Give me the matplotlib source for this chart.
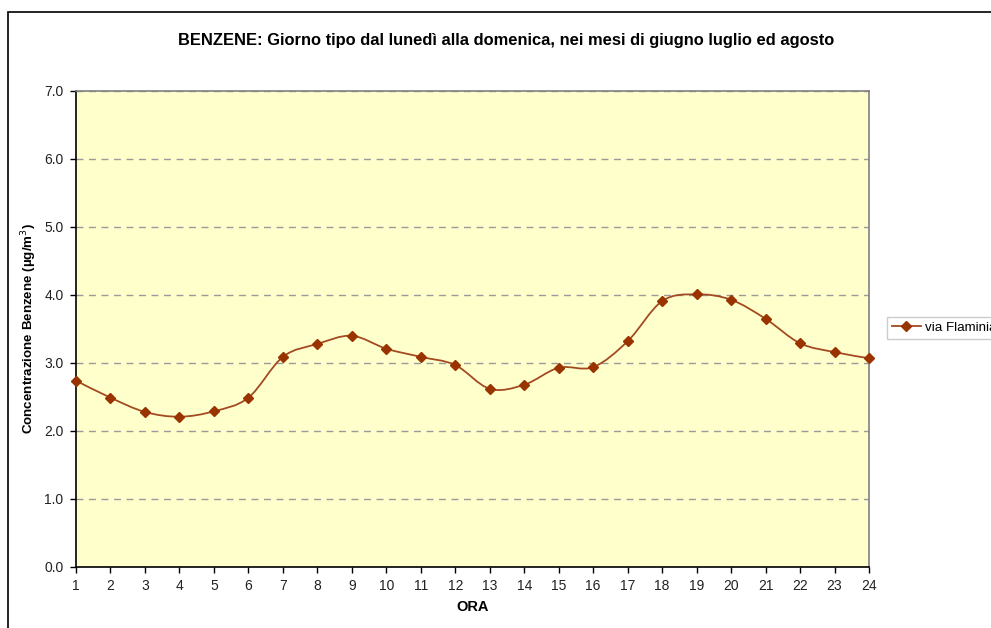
import matplotlib.pyplot as plt
from matplotlib.path import Path
from matplotlib.patches import PathPatch, Rectangle
from matplotlib.lines import Line2D

# hourly mean benzene, via Flaminia
ore = list(range(1, 25))
benzene = [2.74, 2.49, 2.28, 2.21, 2.29, 2.49, 3.09, 3.28, 3.40, 3.21, 3.09, 2.97,
           2.62, 2.68, 2.93, 2.94, 3.32, 3.91, 4.01, 3.93, 3.65, 3.29, 3.16, 3.07]
serie = "via Flaminia"
titolo = "BENZENE: Giorno tipo dal lunedì alla domenica, nei mesi di giugno luglio ed agosto"

plt.rcParams['font.family'] = ['Liberation Sans', 'DejaVu Sans']

LINE_C = "#A34A22"
MARK_C = "#993300"


def smooth_path(x, y, t=1 / 6):
    # Excel-style smoothed line: cubic Bezier through each point
    verts = [(x[0], y[0])]
    codes = [Path.MOVETO]
    n = len(x)
    for i in range(n - 1):
        x0, y0 = (x[i - 1], y[i - 1]) if i > 0 else (x[i], y[i])
        x3, y3 = (x[i + 2], y[i + 2]) if i + 2 < n else (x[i + 1], y[i + 1])
        c1 = (x[i] + (x[i + 1] - x0) * t, y[i] + (y[i + 1] - y0) * t)
        c2 = (x[i + 1] - (x3 - x[i]) * t, y[i + 1] - (y3 - y[i]) * t)
        verts += [c1, c2, (x[i + 1], y[i + 1])]
        codes += [Path.CURVE4] * 3
    return Path(verts, codes)


fig = plt.figure(figsize=(9.91, 6.28), dpi=100)
ax = fig.add_axes([76 / 991, 1 - 567 / 628, (869 - 76) / 991, (567 - 91) / 628])

# outer chart frame (runs off the right and bottom edges)
fig.patches.append(Rectangle((8 / 991, -0.1), 1.2, 1 - 12 / 628 + 0.1,
                             transform=fig.transFigure, fill=False,
                             edgecolor="black", linewidth=1.2))

ax.set_facecolor("#FFFFCC")
ax.add_patch(PathPatch(smooth_path(ore, benzene), facecolor="none",
                       edgecolor=LINE_C, linewidth=1.3, zorder=3))
ax.plot(ore, benzene, linestyle="none", marker="D", markersize=5,
        color=MARK_C, zorder=4, clip_on=False)

ax.set_xlim(1, 24)
ax.set_ylim(0, 7)
ax.set_xticks(ore)
ax.set_yticks([i for i in range(8)])
ax.set_yticklabels([f"{v:.1f}" for v in range(8)])
ax.tick_params(axis="both", direction="out", length=4, width=1, labelsize=10,
               colors="black", labelcolor="#222222")
ax.tick_params(axis="x", pad=5)
ax.tick_params(axis="y", pad=5)
ax.yaxis.grid(True, linestyle=(0, (5, 4)), color="#9A9A9A", linewidth=1)
ax.set_axisbelow(True)

for s in ("top", "right"):
    ax.spines[s].set_color("#808080")
    ax.spines[s].set_linewidth(1.2)
for s in ("left", "bottom"):
    ax.spines[s].set_color("black")
    ax.spines[s].set_linewidth(1.2)

ax.set_xlabel("ORA", fontsize=10.5, fontweight="bold", labelpad=5)
ax.set_ylabel("Concentrazione Benzene (µg/m$^3$)", fontsize=9.6, fontweight="bold",
              labelpad=4)
fig.text(506 / 991, 1 - 40 / 628, titolo, ha="center", va="center",
         fontsize=11.9, fontweight="bold")

handle = Line2D([], [], color=LINE_C, linewidth=1.3, marker="D", markersize=5,
                markerfacecolor=MARK_C, markeredgecolor=MARK_C)
fig.legend([handle], [serie], loc="upper left",
           bbox_to_anchor=(887 / 991, 1 - 317 / 628), fontsize=9.6,
           frameon=True, fancybox=False, edgecolor="#C0C0C0", handlelength=2.2,
           handletextpad=0.3, borderpad=0.35, borderaxespad=0)

fig.savefig("out.png", dpi=100, facecolor="white")
